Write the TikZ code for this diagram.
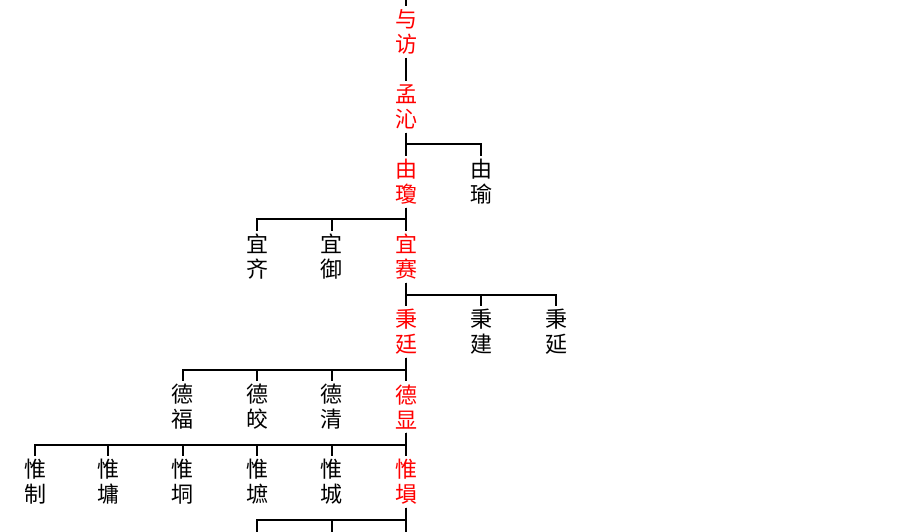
\documentclass[tikz,border=0pt]{standalone}
\usepackage{fontspec}
\newfontfamily\cjk{Noto Sans CJK SC}
\usetikzlibrary{calc}
\definecolor{mainred}{RGB}{255,0,0}
\tikzset{
  person/.style={inner sep=0pt, minimum height=51pt, minimum width=24pt, align=center,
    font=\cjk\fontsize{22}{25}\selectfont, text=black},
  heir/.style={person, text=mainred},
  link/.style={line width=2pt, black}
}
\newcommand{\kinlink}[2]{\draw[link] (#1.south) |- ($(#1.south)!0.5!(#2.north)$) -| (#2.north);}
\newcommand{\kinlinkc}[2]{\draw[link] (#1.south) |- ($(#1.south)!0.5!(#2)$) -| (#2);}
\begin{document}
\begin{tikzpicture}[x=1pt,y=-1pt]
\useasboundingbox (0,0) rectangle (903,532);
% generation rows: 32, 107, 182, 257, 332, 407, 482
\coordinate (top) at (406,0);
\node[heir] (yufang) at (406,32) {与\\访};
\node[heir] (mengqin) at (406,107) {孟\\沁};
\node[heir] (youqiong) at (406,182) {由\\瓊};
\node[person] (youyu) at (481,182) {由\\瑜};
\node[person] (yiqi) at (257,257) {宜\\齐};
\node[person] (yiyu) at (331.5,257) {宜\\御};
\node[heir] (yisai) at (406,257) {宜\\赛};
\node[heir] (bingting) at (406,332) {秉\\廷};
\node[person] (bingjian) at (481,332) {秉\\建};
\node[person] (bingyan) at (556,332) {秉\\延};
\node[person] (defu) at (182.5,407) {德\\福};
\node[person] (dejiao) at (257,407) {德\\皎};
\node[person] (deqing) at (331.5,407) {德\\清};
\node[heir] (dexian) at (406,407) {德\\显};
\node[person] (weizhi) at (35,482) {惟\\制};
\node[person] (weiyong) at (108,482) {惟\\墉};
\node[person] (weijiong) at (182.5,482) {惟\\垌};
\node[person] (weizhi2) at (257,482) {惟\\墌};
\node[person] (weicheng) at (331.5,482) {惟\\城};
\node[heir] (weixun) at (406,482) {惟\\塤};
\coordinate (c1) at (257,532);
\coordinate (c2) at (331.5,532);
\coordinate (c3) at (406,532);
\draw[link] (top) -- (yufang.north);
\draw[link] (yufang.south) -- (mengqin.north);
\kinlink{mengqin}{youqiong}
\kinlink{mengqin}{youyu}
\kinlink{youqiong}{yiqi}
\kinlink{youqiong}{yiyu}
\kinlink{youqiong}{yisai}
\kinlink{yisai}{bingting}
\kinlink{yisai}{bingjian}
\kinlink{yisai}{bingyan}
\kinlink{bingting}{defu}
\kinlink{bingting}{dejiao}
\kinlink{bingting}{deqing}
\kinlink{bingting}{dexian}
\kinlink{dexian}{weizhi}
\kinlink{dexian}{weiyong}
\kinlink{dexian}{weijiong}
\kinlink{dexian}{weizhi2}
\kinlink{dexian}{weicheng}
\kinlink{dexian}{weixun}
\kinlinkc{weixun}{c1}
\kinlinkc{weixun}{c2}
\draw[link] (weixun.south) -- (c3);
\end{tikzpicture}
\end{document}
